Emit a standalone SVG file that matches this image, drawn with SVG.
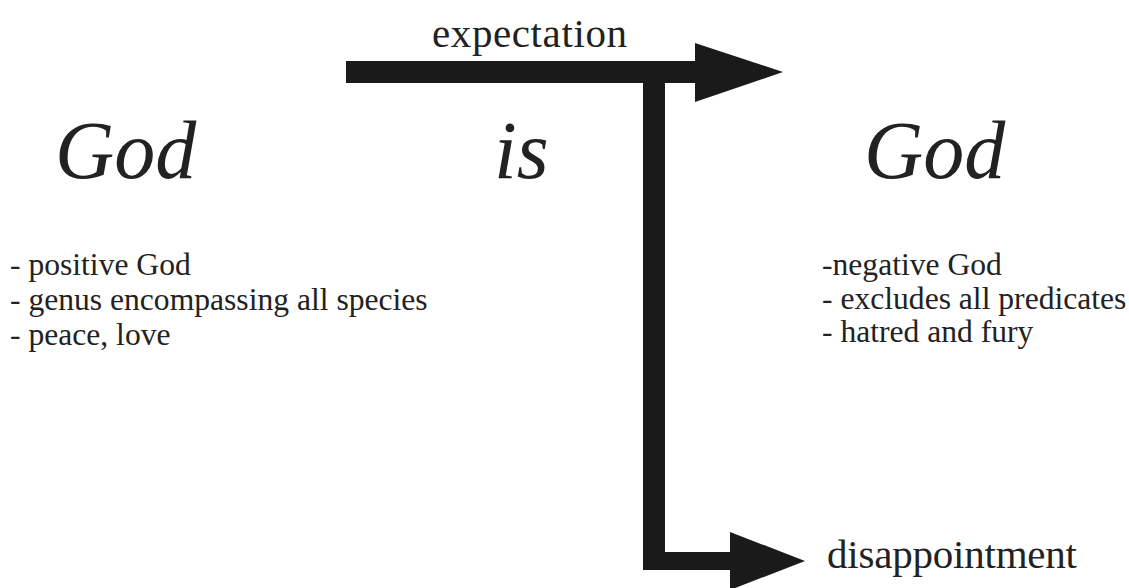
<svg xmlns="http://www.w3.org/2000/svg" width="1129" height="588" viewBox="0 0 1129 588">
<style>
.t{font-family:"Liberation Serif","Times New Roman",serif;fill:#222;}
.big{font-size:82px;font-style:italic;}
.lbl{font-size:41px;}
.lst{font-size:31.6px;}
.ar{fill:#1a1a1a;}
</style>
<rect width="1129" height="588" fill="#fff"/>
<g id="connectors">
<polygon class="ar" points="346,61 695,61 695,43 783,72 695,102 695,83 346,83"/>
<polygon class="ar" points="643,72 665,72 665,552 730,552 730,532 805,561 730,590 730,570 643,570"/>
</g>
<g id="god-left"><text class="t big" x="55" y="178">God</text></g>
<g id="is"><text class="t big" x="494" y="178">is</text></g>
<g id="god-right"><text class="t big" x="864" y="178">God</text></g>
<g id="expectation"><text class="t lbl" x="432" y="47" textLength="195">expectation</text></g>
<g id="disappointment"><text class="t lbl" x="827" y="568" textLength="250">disappointment</text></g>
<g id="list-left">
<text class="t lst" x="10" y="275">- positive God</text>
<text class="t lst" x="10" y="310">- genus encompassing all species</text>
<text class="t lst" x="10" y="345">- peace, love</text>
</g>
<g id="list-right">
<text class="t lst" x="822" y="275">-negative God</text>
<text class="t lst" x="822" y="309">- excludes all predicates</text>
<text class="t lst" x="822" y="342">- hatred and fury</text>
</g>
</svg>
